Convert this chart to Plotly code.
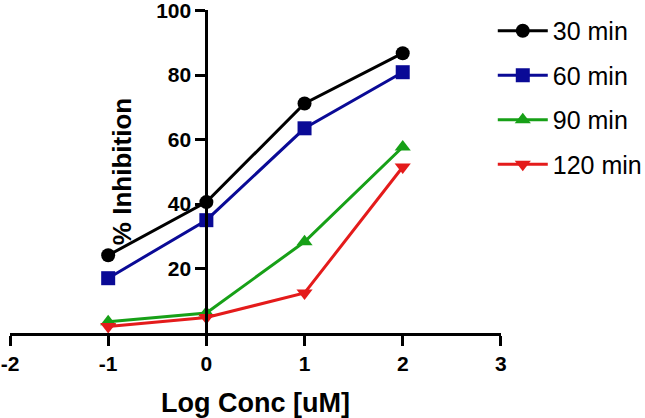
import plotly.graph_objects as go

log_conc = [-1, 0, 1, 2]
series_names = ["30 min", "60 min", "90 min", "120 min"]
inh_30 = [24.1, 40.6, 71.2, 86.8]
inh_60 = [17.0, 35.0, 63.5, 80.9]
inh_90 = [3.5, 6.2, 28.3, 57.7]
inh_120 = [2.0, 4.8, 12.4, 51.5]
x_ticks = [-2, -1, 0, 1, 2, 3]
y_ticks = [20, 40, 60, 80, 100]

colors = ["#000000", "#0A0A96", "#17A017", "#E41B1B"]
symbols = ["circle", "square", "triangle-up", "triangle-down"]
all_vals = [inh_30, inh_60, inh_90, inh_120]

fig = go.Figure()
for name, vals, col, sym in zip(series_names, all_vals, colors, symbols):
    fig.add_trace(go.Scatter(
        x=log_conc, y=vals, name=name, mode="lines+markers",
        line=dict(color=col, width=3),
        marker=dict(symbol=sym, size=14, color=col),
        legendgroup=name, cliponaxis=False,
    ))

FONT = "Liberation Sans, Arial, sans-serif"
fig.update_layout(
    width=645, height=418,
    margin=dict(l=10, r=144, t=10, b=85, autoexpand=False),
    paper_bgcolor="white", plot_bgcolor="white",
    font=dict(family=FONT, color="black"),
    showlegend=True,
    legend=dict(
        xref="container", yref="container",
        x=0.764, y=0.981, xanchor="left", yanchor="top",
        font=dict(family=FONT, size=25, color="black"),
        tracegroupgap=9, itemwidth=50, bgcolor="rgba(0,0,0,0)",
    ),
    xaxis=dict(
        range=[-2, 3.001], tickvals=x_ticks, ticktext=[str(v) for v in x_ticks],
        automargin=False, ticklabeloverflow="allow",
        showgrid=False, zeroline=False, showline=True, linewidth=3, linecolor="black",
        ticks="outside", ticklen=10, tickwidth=3, tickcolor="black",
        tickfont=dict(family=FONT, size=21, color="black", weight="bold"),
        title=dict(text="<b>Log Conc [uM]</b>", font=dict(family=FONT, size=27, color="black"), standoff=20),
    ),
    yaxis=dict(
        range=[0, 100.2], tickvals=y_ticks, ticktext=[str(v) for v in y_ticks],
        anchor="free", position=0.4, automargin=False, ticklabeloverflow="allow",
        showgrid=False, zeroline=False, showline=True, linewidth=3, linecolor="black",
        ticks="outside", ticklen=10, tickwidth=3, tickcolor="black",
        tickfont=dict(family=FONT, size=21, color="black", weight="bold"),
        title=dict(text="<b>% Inhibition</b>", font=dict(family=FONT, size=26, color="black"), standoff=16),
    ),
)

fig.write_html("out.html", config={"displayModeBar": False},
               post_script="document.body.style.margin='0';")
